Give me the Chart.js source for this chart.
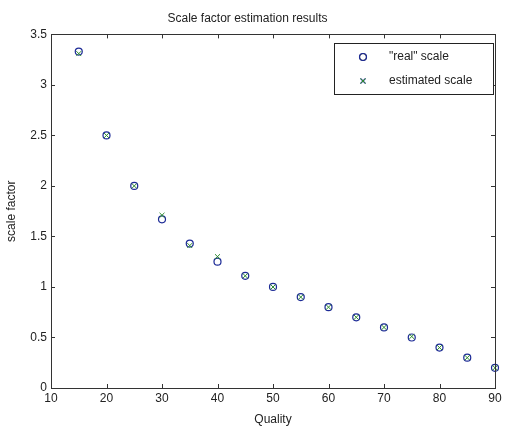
<!DOCTYPE html>
<html>
<head>
<meta charset="utf-8">
<title>Scale factor estimation results</title>
<script src="https://cdn.jsdelivr.net/npm/chart.js@4.4.1/dist/chart.umd.min.js"></script>
<style>
  body { margin: 0; background: #fff; }
  canvas { display: block; }
</style>
</head>
<body>
<canvas id="chart" width="505" height="430"></canvas>
<script>
// Data
const quality = [15, 20, 25, 30, 35, 40, 45, 50, 55, 60, 65, 70, 75, 80, 85, 90];
const realScale = [3.33, 2.5, 2.0, 1.67, 1.43, 1.25, 1.11, 1.0, 0.9, 0.8, 0.7, 0.6, 0.5, 0.4, 0.3, 0.2];
const estimatedScale = [3.31, 2.5, 2.0, 1.71, 1.41, 1.30, 1.11, 1.0, 0.9, 0.8, 0.7, 0.6, 0.51, 0.4, 0.3, 0.2];
const seriesLabels = ['"real" scale', 'estimated scale'];

const fontFamily = '"Liberation Sans", Arial, sans-serif';
const textColor = '#222';
const realColor = '#1c2a96';
const estColor = '#2e8b2e';

function toPoints(xs, ys) {
  return xs.map((x, i) => ({ x: x, y: ys[i] }));
}

// Box round the axes, ticks pointing inward, and the boxed legend (MATLAB look)
const matlabAxes = {
  id: 'matlabAxes',
  afterDraw(chart) {
    const ctx = chart.ctx;
    const a = chart.chartArea;
    const xs = chart.scales.x;
    const ys = chart.scales.y;
    const len = 4;
    ctx.save();
    ctx.strokeStyle = '#333';
    ctx.lineWidth = 1;
    ctx.beginPath();
    xs.ticks.forEach(t => {
      const px = Math.round(xs.getPixelForValue(t.value)) + 0.5;
      ctx.moveTo(px, a.bottom); ctx.lineTo(px, a.bottom - len);
      ctx.moveTo(px, a.top); ctx.lineTo(px, a.top + len);
    });
    ys.ticks.forEach(t => {
      const py = Math.round(ys.getPixelForValue(t.value)) + 0.5;
      ctx.moveTo(a.left, py); ctx.lineTo(a.left + len, py);
      ctx.moveTo(a.right, py); ctx.lineTo(a.right - len, py);
    });
    ctx.stroke();
    ctx.strokeRect(Math.round(a.left) + 0.5, Math.round(a.top) + 0.5,
      Math.round(a.right - a.left), Math.round(a.bottom - a.top));

    // legend
    const lx = 334, ly = 43, lw = 159, lh = 51;
    ctx.fillStyle = '#fff';
    ctx.fillRect(lx, ly, lw, lh);
    ctx.strokeStyle = '#222';
    ctx.strokeRect(lx + 0.5, ly + 0.5, lw, lh);
    ctx.font = '12px ' + fontFamily;
    ctx.textBaseline = 'middle';
    ctx.textAlign = 'left';
    chart.data.datasets.forEach((ds, i) => {
      const cy = ly + 14 + i * 24;
      Chart.helpers.drawPoint(ctx, {
        pointStyle: ds.pointStyle,
        radius: ds.pointRadius,
        borderWidth: ds.borderWidth
      }, 363, cy);
      ctx.strokeStyle = ds.borderColor;
      ctx.lineWidth = ds.borderWidth;
      ctx.stroke();
      ctx.fillStyle = textColor;
      ctx.fillText(ds.label, 389, cy);
    });
    ctx.restore();
  }
};

new Chart(document.getElementById('chart'), {
  type: 'scatter',
  data: {
    datasets: [
      {
        label: seriesLabels[0],
        data: toPoints(quality, realScale),
        pointStyle: 'circle',
        pointRadius: 3.5,
        borderWidth: 1.2,
        borderColor: realColor,
        backgroundColor: 'rgba(0,0,0,0)',
        order: 1,
        clip: false
      },
      {
        label: seriesLabels[1],
        data: toPoints(quality, estimatedScale),
        pointStyle: 'crossRot',
        pointRadius: 3.5,
        borderWidth: 1,
        borderColor: estColor,
        backgroundColor: estColor,
        order: 0,
        clip: false
      }
    ]
  },
  options: {
    responsive: false,
    animation: false,
    layout: { padding: { left: 0, right: 10, top: 0, bottom: 0 } },
    plugins: {
      legend: { display: false },
      tooltip: { enabled: false },
      title: {
        display: true,
        text: 'Scale factor estimation results',
        color: textColor,
        font: { family: fontFamily, size: 12, weight: 'normal' },
        padding: { top: 11, bottom: 9 }
      }
    },
    scales: {
      x: {
        type: 'linear',
        min: 10,
        max: 90,
        ticks: {
          stepSize: 10,
          color: textColor,
          padding: 3,
          maxRotation: 0,
          font: { family: fontFamily, size: 12 }
        },
        grid: { display: false, drawTicks: false },
        border: { display: false },
        title: {
          display: true,
          text: 'Quality',
          color: textColor,
          font: { family: fontFamily, size: 12 },
          padding: { top: 2, bottom: 3 }
        },
        afterFit(scale) { scale.height = 42; }
      },
      y: {
        type: 'linear',
        min: 0,
        max: 3.5,
        ticks: {
          stepSize: 0.5,
          color: textColor,
          padding: 4,
          font: { family: fontFamily, size: 12 },
          callback: (value) => String(value)
        },
        grid: { display: false, drawTicks: false },
        border: { display: false },
        title: {
          display: true,
          text: 'scale factor',
          color: textColor,
          font: { family: fontFamily, size: 12 },
          padding: { top: 4, bottom: 4 }
        },
        afterFit(scale) { scale.width = 51; }
      }
    }
  },
  plugins: [matlabAxes]
});
</script>
</body>
</html>
